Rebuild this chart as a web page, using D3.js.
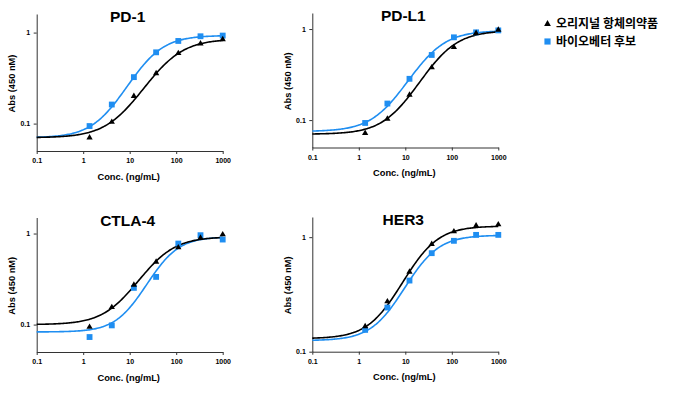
<!DOCTYPE html>
<html>
<head>
<meta charset="utf-8">
<style>
    body { margin: 0; background: #fff; }
    svg text { font-family: "Liberation Sans", Arial, sans-serif; font-weight: bold; fill: #000; }
    .axis path, .axis line { stroke: #333; stroke-width: 1; }
    .axis text { font-size: 7px; }
    .title { font-size: 15.5px; }
    .label { font-size: 9.3px; }
    .legend text { font-family: "Noto Sans CJK KR", sans-serif; font-size: 12px; font-weight: bold; }
</style>
</head>
<body>
<svg width="680" height="394"></svg>
<script src="https://cdn.jsdelivr.net/npm/d3@7"></script>
<script>

// concentrations (ng/mL), 3-fold dilution series
var concentrations = [1.37, 4.12, 12.3, 37, 111, 333, 1000];
var xTicks = [0.1, 1, 10, 100, 1000];
var xTickLabels = ["0.1", "1", "10", "100", "1000"];
var yTicks = [0.1, 1];
var panelNames = ["PD-1", "PD-L1", "CTLA-4", "HER3"];
var seriesNames = ["오리지널 항체의약품", "바이오베터 후보"];

// measured Abs values
var pd1Original    = [0.070, 0.104, 0.200, 0.356, 0.592, 0.757, 0.843];
var pd1Candidate   = [0.094, 0.162, 0.324, 0.607, 0.809, 0.911, 0.927];
var pdl1Original   = [0.072, 0.103, 0.189, 0.378, 0.630, 0.900, 0.980];
var pdl1Candidate  = [0.093, 0.152, 0.284, 0.519, 0.811, 0.920, 0.966];
var ctla4Original  = [0.094, 0.155, 0.273, 0.489, 0.702, 0.895, 0.975];
var ctla4Candidate = [0.073, 0.098, 0.253, 0.334, 0.776, 0.959, 0.859];
var her3Original   = [0.166, 0.274, 0.498, 0.869, 1.120, 1.260, 1.290];
var her3Candidate  = [0.155, 0.243, 0.418, 0.725, 0.929, 1.047, 1.047];

// 4PL fit parameters: [bottom, top, EC50, hill]
var pd1OriginalFit    = [0.070, 0.85, 60, 1.14];
var pd1CandidateFit   = [0.070, 0.93, 24.7, 1.25];
var pdl1OriginalFit   = [0.070, 0.96, 60, 1.2];
var pdl1CandidateFit  = [0.075, 0.96, 33, 1.2];
var ctla4OriginalFit  = [0.100, 0.92, 39, 1.2];
var ctla4CandidateFit = [0.083, 0.92, 55, 1.4];
var her3OriginalFit   = [0.130, 1.25, 21.7, 1.25];
var her3CandidateFit  = [0.125, 1.04, 22.2, 1.28];

var yDomains = [[0.05, 1.6], [0.05, 1.5], [0.05, 1.5], [0.1, 1.5]];

var panels = [
    {name: panelNames[0], orig: pd1Original,   cand: pd1Candidate,   origFit: pd1OriginalFit,   candFit: pd1CandidateFit,   yDomain: yDomains[0]},
    {name: panelNames[1], orig: pdl1Original,  cand: pdl1Candidate,  origFit: pdl1OriginalFit,  candFit: pdl1CandidateFit,  yDomain: yDomains[1]},
    {name: panelNames[2], orig: ctla4Original, cand: ctla4Candidate, origFit: ctla4OriginalFit, candFit: ctla4CandidateFit, yDomain: yDomains[2]},
    {name: panelNames[3], orig: her3Original,  cand: her3Candidate,  origFit: her3OriginalFit,  candFit: her3CandidateFit,  yDomain: yDomains[3]}
];

// panel boxes on the page
var boxes = [
    {left: 36.7, right: 222.7, top: 14, bottom: 151},
    {left: 312.3, right: 498.3, top: 13, bottom: 147.5},
    {left: 36.7, right: 222.7, top: 217.5, bottom: 352},
    {left: 312.3, right: 498.3, top: 217, bottom: 351.7}
];

var blue = "#1f8ef1";
var svg = d3.select("svg");

function fourPL(p, x) {
    return p[0] + (p[1] - p[0]) / (1 + Math.pow(p[2] / x, p[3]));
}

var curveX = d3.range(0, 161).map(function(i) { return Math.pow(10, -1 + i * 4 / 160); });

panels.forEach(function(p, i) {
    var b = boxes[i];
    var w = b.right - b.left, h = b.bottom - b.top;
    var g = svg.append("g").attr("transform", "translate(" + b.left + "," + b.top + ")");

    var x = d3.scaleLog().domain([0.1, 1000]).range([0, w]);
    var y = d3.scaleLog().domain(p.yDomain).range([h, 0]);

    g.append("g")
        .attr("class", "axis")
        .attr("transform", "translate(0," + h + ")")
        .call(d3.axisBottom(x).tickValues(xTicks)
            .tickFormat(function(d, j) { return xTickLabels[j]; })
            .tickSize(3).tickSizeOuter(0).tickPadding(4.5));

    g.append("g")
        .attr("class", "axis")
        .call(d3.axisLeft(y).tickValues(yTicks)
            .tickFormat(function(d) { return d === 1 ? "1" : "0.1"; })
            .tickSize(3).tickSizeOuter(0).tickPadding(3.5));

    g.selectAll(".axis text").attr("fill", "#000").style("font-family", "'Liberation Sans', Arial, sans-serif");

    var line = function(fit) {
        return d3.line()
            .x(function(d) { return x(d); })
            .y(function(d) { return y(fourPL(fit, d)); })(curveX);
    };

    g.append("path").attr("d", line(p.candFit)).attr("fill", "none").attr("stroke", blue).attr("stroke-width", 1.6);
    g.append("path").attr("d", line(p.origFit)).attr("fill", "none").attr("stroke", "#000").attr("stroke-width", 1.6);

    g.selectAll(".sq").data(p.cand).enter().append("path")
        .attr("d", d3.symbol().type(d3.symbolSquare).size(34))
        .attr("transform", function(d, j) { return "translate(" + x(concentrations[j]) + "," + y(d) + ")"; })
        .attr("fill", blue);

    g.selectAll(".tri").data(p.orig).enter().append("path")
        .attr("d", d3.symbol().type(d3.symbolTriangle).size(17))
        .attr("transform", function(d, j) { return "translate(" + x(concentrations[j]) + "," + y(d) + ")"; })
        .attr("fill", "#000");

    g.append("text")
        .attr("class", "title")
        .attr("x", w / 2 - 2)
        .attr("y", 8)
        .attr("text-anchor", "middle")
        .text(p.name);

    g.append("text")
        .attr("class", "label")
        .attr("text-anchor", "middle")
        .attr("transform", "translate(-21.5," + (h / 2 + 1) + ") rotate(-90)")
        .text("Abs (450 nM)");

    g.append("text")
        .attr("class", "label")
        .attr("x", w / 2 - 1)
        .attr("y", h + 28.5)
        .attr("text-anchor", "middle")
        .text("Conc. (ng/mL)");
});

var legend = svg.append("g").attr("class", "legend");
legend.append("path")
    .attr("d", d3.symbol().type(d3.symbolTriangle).size(20))
    .attr("transform", "translate(547.5,24)")
    .attr("fill", "#000");
legend.append("path")
    .attr("d", d3.symbol().type(d3.symbolSquare).size(38))
    .attr("transform", "translate(547.5,41.5)")
    .attr("fill", blue);
legend.append("text").attr("x", 556).attr("y", 24).attr("dy", "0.36em").text(seriesNames[0]);
legend.append("text").attr("x", 556).attr("y", 41.5).attr("dy", "0.36em").text(seriesNames[1]);

</script>
</body>
</html>
